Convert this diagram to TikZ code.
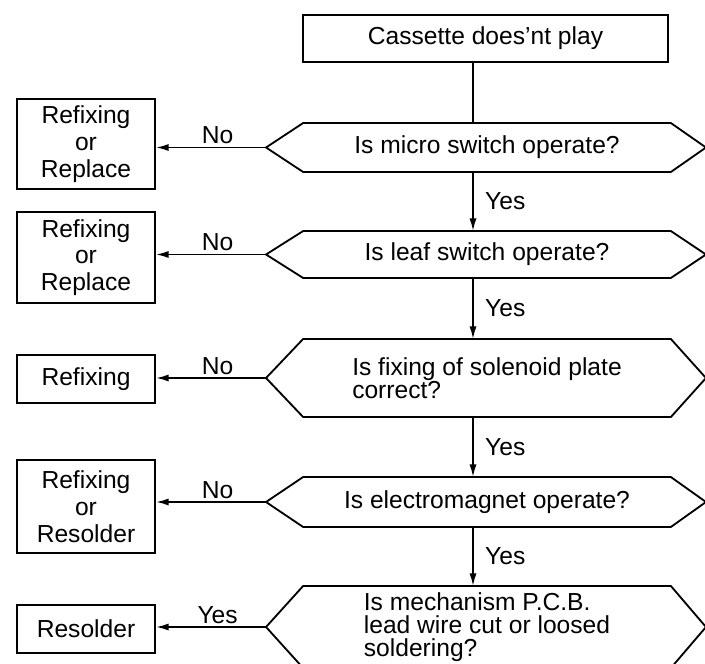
\documentclass[tikz,border=0pt]{standalone}
\usepackage{fontspec}
\setmainfont{Liberation Sans}
\usetikzlibrary{arrows.meta,calc,positioning}

\begin{document}
\begin{tikzpicture}[x=0.025cm, y=-0.025cm, line width=1.3pt,
  >={Latex[length=3.2mm,width=1.8mm]},
  box/.style={draw, minimum width=3.45cm, inner sep=0pt, align=center,
    font=\fontsize{17.5}{19}\selectfont},
  hexq/.style={minimum width=9.15cm, inner sep=0pt, align=center,
    font=\fontsize{17.5}{16.5}\selectfont},
  lbl/.style={inner sep=2pt, font=\fontsize{17.5}{19}\selectfont}]
  \useasboundingbox (0,0) rectangle (705,664);

  % Start box and main line
  \node[box, minimum width=9.125cm, minimum height=1.175cm] (start) at (485.5,38.5)
    {Cassette does'nt play};
  \coordinate (spine) at (473,0);

  % Question 1
  \node[hexq, minimum height=1.175cm] (q1) at (487,147.5) {Is micro switch operate?};
  \draw ($(q1.west)+(-37,0)$) coordinate (q1tip) -- (q1.north west) -- (q1.north east)
    -- ($(q1.east)+(35,0)$) -- (q1.south east) -- (q1.south west) -- cycle;
  \node[box, minimum height=2.25cm] (r1) at (86,144) {Refixing\\or\\Replace};

  % Question 2
  \node[hexq, minimum height=1.125cm] (q2) at (487,254.5) {Is leaf switch operate?};
  \draw ($(q2.west)+(-37,0)$) coordinate (q2tip) -- (q2.north west) -- (q2.north east)
    -- ($(q2.east)+(35,0)$) -- (q2.south east) -- (q2.south west) -- cycle;
  \node[box, minimum height=2.275cm] (r2) at (86,257.5) {Refixing\\or\\Replace};

  % Question 3
  \node[hexq, minimum height=1.9cm, align=left] (q3) at (487,378)
    {Is fixing of solenoid plate\\correct?};
  \draw ($(q3.west)+(-37,0)$) coordinate (q3tip) -- (q3.north west) -- (q3.north east)
    -- ($(q3.east)+(35,0)$) -- (q3.south east) -- (q3.south west) -- cycle;
  \node[box, minimum height=1.2cm] (r3) at (86,379) {Refixing};

  % Question 4
  \node[hexq, minimum height=1.2cm] (q4) at (487,502) {Is electromagnet operate?};
  \draw ($(q4.west)+(-37,0)$) coordinate (q4tip) -- (q4.north west) -- (q4.north east)
    -- ($(q4.east)+(35,0)$) -- (q4.south east) -- (q4.south west) -- cycle;
  \node[box, minimum height=2.325cm] (r4) at (86,506.5) {Refixing\\or\\Resolder};

  % Question 5
  \node[hexq, minimum height=2.0cm, align=left] (q5) at (487,627)
    {Is mechanism P.C.B.\\lead wire cut or loosed\\soldering?};
  \draw ($(q5.west)+(-37,0)$) coordinate (q5tip) -- (q5.north west) -- (q5.north east)
    -- ($(q5.east)+(35,0)$) -- (q5.south east) -- (q5.south west) -- cycle;
  \node[box, minimum height=1.2cm] (r5) at (86,629) {Resolder};

  % Down the main line
  \draw (start.south -| spine) -- (q1.north -| spine);
  \draw[->] (q1.south -| spine) -- node[lbl, right=6pt] {Yes} (q2.north -| spine);
  \draw[->] (q2.south -| spine) -- node[lbl, right=6pt] {Yes} (q3.north -| spine);
  \draw[->] (q3.south -| spine) -- node[lbl, right=6pt] {Yes} (q4.north -| spine);
  \draw[->] (q4.south -| spine) -- node[lbl, right=6pt] {Yes} (q5.north -| spine);

  % Out to the left
  \draw[->] (q1tip) -- node[lbl, above, pos=0.44] {No} (q1tip -| r1.east);
  \draw[->] (q2tip) -- node[lbl, above, pos=0.44] {No} (q2tip -| r2.east);
  \draw[->] (q3tip) -- node[lbl, above, pos=0.44] {No} (q3tip -| r3.east);
  \draw[->] (q4tip) -- node[lbl, above, pos=0.44] {No} (q4tip -| r4.east);
  \draw[->] (q5tip) -- node[lbl, above, pos=0.44] {Yes} (q5tip -| r5.east);
\end{tikzpicture}
\end{document}
